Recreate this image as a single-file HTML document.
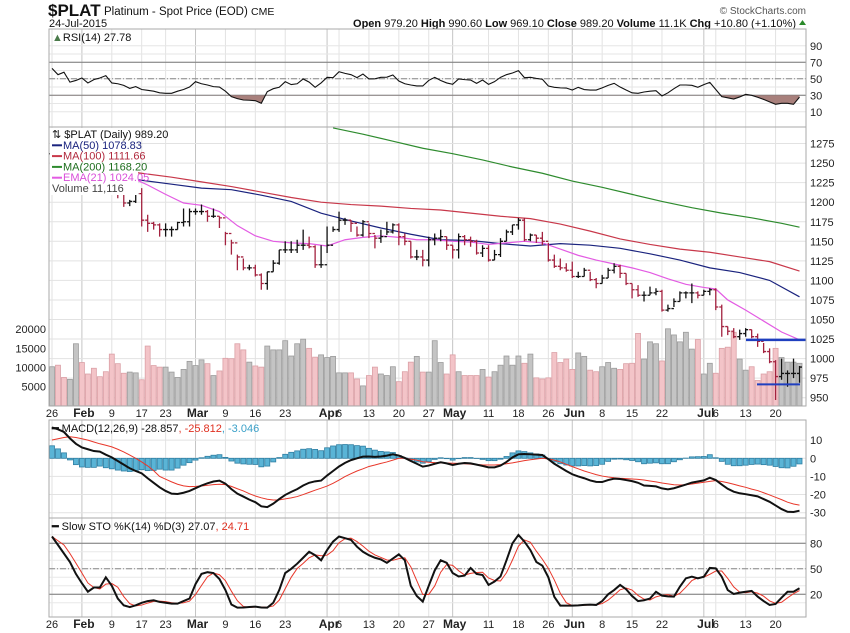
<!DOCTYPE html>
<html><head><meta charset="utf-8"><style>
body{margin:0;background:#fff}
svg{display:block;font-family:"Liberation Sans",Arial,sans-serif}
</style></head><body>
<svg id="chart" width="850" height="633" viewBox="0 0 850 633" xmlns="http://www.w3.org/2000/svg">
<defs>
<clipPath id="cpPrice"><rect x="49" y="127" width="757" height="279"/></clipPath>
<clipPath id="cpRsi"><rect x="49" y="29" width="757" height="98"/></clipPath>
<clipPath id="cpRsiLow"><rect x="49" y="95.3" width="757" height="40"/></clipPath>
<clipPath id="cpMacd"><rect x="49" y="420" width="757" height="98"/></clipPath>
<clipPath id="cpSto"><rect x="49" y="518" width="757" height="99"/></clipPath>
</defs>
<text x="48" y="16" font-size="17" font-weight="bold" fill="#111">$PLAT</text>
<text x="104" y="15" font-size="11.5" fill="#111">Platinum  - Spot Price (EOD) <tspan font-size="10.5">CME</tspan></text>
<text x="49" y="27" font-size="11" fill="#111">24-Jul-2015</text>
<text x="806" y="14" font-size="10" fill="#555" text-anchor="end">© StockCharts.com</text>
<text x="796" y="27" font-size="11" fill="#111" text-anchor="end"><tspan font-weight="bold">Open</tspan> 979.20 <tspan font-weight="bold">High</tspan> 990.60 <tspan font-weight="bold">Low</tspan> 969.10 <tspan font-weight="bold">Close</tspan> 989.20 <tspan font-weight="bold">Volume</tspan> 11.1K <tspan font-weight="bold">Chg</tspan> +10.80 (+1.10%)</text>
<polygon points="799,25 806,25 802.5,20" fill="#2a8a2a"/>
<g id="g"></g>
</svg>
<script>
// ---- data ----
const closes=[1262,1258,1255,1265,1270,1262,1255,1248,1240,1235,1225,1211,1199,1201,1211,1177,1173,1171,1165,1165,1165,1174,1175,1188,1188,1188,1182,1182,1180,1160,1148,1130,1116,1116,1107,1096,1111,1122,1139,1139,1139,1145,1145,1143,1120,1120,1145,1165,1177,1177,1173,1158,1175,1160,1154,1156,1162,1171,1156,1150,1130,1130,1126,1152,1154,1156,1145,1139,1156,1152,1150,1135,1141,1126,1133,1150,1162,1171,1177,1152,1158,1154,1150,1126,1118,1116,1113,1105,1105,1113,1101,1096,1103,1113,1118,1109,1096,1088,1081,1081,1084,1086,1062,1064,1073,1084,1084,1084,1081,1086,1088,1066,1041,1035,1028,1032,1037,1028,1022,1009,996,977,981,981,981,989.2];
const highs=[1266,1262,1262,1270,1274,1268,1260,1254,1246,1240,1236,1216,1211,1203,1214,1218,1184,1175,1173,1173,1169,1175,1192,1192,1192,1197,1190,1192,1182,1162,1152,1133,1128,1120,1120,1109,1111,1126,1139,1150,1150,1152,1165,1156,1145,1145,1169,1169,1188,1180,1177,1169,1177,1173,1158,1165,1175,1173,1173,1160,1150,1139,1139,1156,1160,1165,1156,1145,1160,1158,1156,1152,1145,1145,1139,1154,1165,1171,1180,1180,1160,1158,1162,1148,1133,1128,1122,1124,1111,1116,1111,1103,1107,1116,1122,1120,1109,1096,1094,1086,1092,1090,1088,1069,1077,1086,1086,1096,1086,1088,1090,1090,1069,1041,1039,1037,1039,1037,1032,1020,1013,998,1000,985,1000,990.6];
const lows=[1255,1252,1250,1258,1262,1255,1248,1240,1234,1228,1220,1205,1194,1195,1199,1169,1162,1165,1156,1156,1156,1165,1169,1169,1184,1184,1175,1180,1167,1145,1133,1113,1113,1113,1105,1088,1088,1111,1120,1135,1135,1135,1139,1141,1116,1116,1135,1162,1162,1171,1162,1156,1156,1154,1141,1148,1158,1160,1145,1145,1128,1126,1118,1118,1145,1150,1139,1128,1128,1145,1143,1133,1130,1124,1126,1130,1150,1158,1165,1150,1150,1148,1145,1124,1116,1113,1111,1103,1103,1105,1099,1090,1096,1103,1109,1103,1094,1077,1079,1073,1081,1081,1060,1060,1066,1073,1077,1071,1077,1081,1081,1062,1028,1030,1026,1024,1028,1026,1015,1007,994,947,973,964,975,969.1];
const volumes=[10.2,10.6,7.4,6.9,16.2,11.3,8.3,9.8,7.6,8.9,13.5,11.0,8.5,8.8,8.6,6.8,15.6,10.5,10.1,10.1,8.8,7.4,9.5,11.6,10.5,12.0,11.0,7.9,9.1,12.4,12.3,16.2,14.6,11.4,10.4,10.1,15.6,14.6,14.6,17.0,13.0,16.2,17.4,15.0,12.7,13.3,12.6,12.9,8.6,8.6,8.6,7.0,5.2,7.9,10.1,8.3,7.9,10.2,6.3,8.9,11.4,12.9,8.8,8.8,17.0,11.3,8.3,13.3,8.9,7.9,7.9,7.9,9.5,7.5,8.9,10.6,13.0,10.6,13.0,11.1,13.5,7.3,7.0,7.3,13.9,11.3,12.2,9.5,13.8,12.9,9.3,8.9,10.2,11.3,9.8,9.5,11.0,11.1,18.9,12.2,16.7,16.2,11.7,20.1,18.5,16.7,19.2,14.8,17.3,8.3,11.1,8.5,15.0,15.3,19.2,12.2,9.3,10.2,6.6,8.3,8.9,15.0,12.6,11.4,11.4,11.1];
const ma50Idx=[14,20,25,30,35,40,45,50,55,60,65,70,75,80,85,90,95,100,105,110,115,120,125];
const ma50=[1229,1223,1218,1216,1209,1201,1186,1176,1167,1159,1152,1151,1147,1144,1147,1145,1141,1134,1126,1116,1110,1100,1079];
const ma100Idx=[14,20,25,30,35,40,45,50,55,60,65,70,75,80,85,90,95,100,105,110,115,120,125];
const ma100=[1238,1232,1226,1220,1213,1206,1200,1197,1195,1192,1190,1186,1182,1179,1172,1163,1153,1146,1140,1136,1130,1124,1112];
const ma200Idx=[47,52,57,62,67,72,77,82,87,92,97,102,107,112,117,122,125];
const ma200=[1295,1287,1278,1269,1262,1254,1245,1237,1227,1219,1210,1201,1193,1186,1180,1173,1168];
const ema21Idx=[14,16,19,22,25,28,31,34,37,40,43,46,49,52,55,58,61,64,67,70,73,76,79,82,85,88,91,94,97,100,103,106,109,111,113,116,119,122,125];
const ema21=[1229,1222,1210,1199,1196,1188,1170,1157,1150,1148,1147,1144,1152,1155,1157,1155,1152,1152,1150,1149,1146,1148,1150,1148,1140,1132,1126,1121,1116,1110,1102,1095,1091,1089,1075,1062,1048,1034,1024];
const rsi=[62.7,55,58,46,48,51,45,49,51,53.8,45,44,42,38.4,40.5,37,36,35,33,32.4,32.4,35,37,40,46.5,44,42.5,40.5,40,35,28.4,26,24.3,24,23.5,20.3,34.4,38,39.7,46.5,43,44,49.8,46,39.7,45,51.8,51.4,58.6,56.6,55,51.4,55.8,49.8,50,51.8,52,54.6,47.3,44,42.5,41.3,41.3,48,51.8,48,45,43.3,49.8,49,48.5,44.5,48.5,43.3,46.5,51.8,55,57,59.9,51.4,51.8,50.5,49.4,41.3,39.7,39,38.8,36.4,39.7,37,36.4,36.4,39,42,44.5,40,36.4,33,32.4,34,35,35.6,29.2,33,38,42.5,42.5,42.1,39.7,43,45.7,37,28.4,27,25.5,28,31.2,30,27.6,25,22,19.1,20.3,20.3,19.1,27.8];
const macd=[17,16,14.5,11,8,6,5,4,3.7,2,0.5,-1.5,-3.5,-5.5,-7,-8.3,-11,-13.5,-16,-18,-19.5,-19.7,-19,-18,-16.5,-15,-13.8,-12.8,-12.3,-14,-17,-19.5,-21.1,-22.8,-24.2,-26.5,-26.9,-25,-22.5,-20.2,-18.5,-17,-15,-13.5,-12.7,-12.3,-9.5,-7,-4.5,-2.5,-1,0,0.9,1,0.8,1,1.5,2.2,1.5,0.2,-1.5,-3,-4.6,-4,-3,-2.2,-2.8,-3.7,-3,-2.6,-2.8,-3.5,-4.2,-5,-5,-4,-2,0.5,2.2,2.4,2.2,2,1.8,-0.5,-3,-5,-7,-8.8,-10,-11,-12.2,-13,-13.1,-12,-11.2,-11.4,-12,-12.6,-13.5,-15,-15.2,-15.5,-16.6,-17.1,-16.5,-15.5,-14.5,-13.4,-12.8,-12.2,-10.7,-12,-14.5,-16.8,-18.4,-19.3,-19.8,-20.4,-21,-22.5,-24,-26,-28,-29.5,-29.6,-28.9];
const signal=[10.1,10.8,11.5,11.9,11.5,10.8,10,9,8,7.2,6.3,5,3.5,1.8,0,-2,-4.2,-6.8,-10,-11.5,-13,-14.3,-15.2,-15.6,-15.5,-15.3,-14.9,-14.5,-14.3,-14.5,-15.5,-16.8,-18,-19.5,-20.8,-21.8,-22.6,-23,-22.9,-22.4,-21.8,-21.1,-20,-18.8,-17.6,-16.5,-15.3,-13.8,-12,-10.1,-8.5,-7,-5.8,-4.5,-3.7,-2.8,-2,-1,0,0,-0.5,-1,-1.9,-2.2,-2.4,-2.5,-2.6,-2.7,-2.8,-3,-3.2,-3.4,-3.6,-3.7,-3.7,-3.5,-3,-2.5,-1.9,-1.3,-0.8,-0.4,0,-0.3,-1,-2,-3.3,-4.6,-5.8,-7,-8,-9,-9.8,-10.3,-10.7,-11,-11.2,-11.4,-11.6,-12,-12.5,-13,-13.6,-14.1,-14.6,-14.7,-14.6,-14.2,-13.7,-13.2,-12.7,-12.3,-12.8,-13.5,-14.3,-15.2,-16,-17,-17.8,-19,-20.2,-21.5,-22.8,-24.2,-25.2,-25.8];
const stoK=[88,78,68,58,44,33,23,28,28,40,30,15,7,5,7,10,12,13,11,10,9,9,12,15,32,44,46,45,38,25,8,4.3,4.5,5,5.5,4.5,4.3,10,25,45,50,56,63,70,66,60,72,82,88,86,84,76,70,66,63,61,57,62,67,60,30,18,11.4,30,48,60,57,45,41,42,51,44,42.7,31,35,41,60,80,89.8,82,72,58,53.7,40,17,6.7,6.7,6.7,7,7.5,7.8,7.5,12,20,25,31,26,18,12,13,15,23,18.4,17.5,17.3,29,38.8,40.7,38.8,40.7,51,50.5,40.7,25,20.4,22,23,24,17.3,12,7.4,8.6,16,23,23,27.1];
const dateIdx=[0,5,10,15,19,24,29,34,39,46,48,53,58,63,67,73,78,83,87,92,97,102,109,111,116,121];
const dateTxt=["26","Feb","9","17","23","Mar","9","16","23","Apr","6","13","20","27","May","11","18","26","Jun","8","15","22","Jul","6","13","20"];
const priceTicks=[950,975,1000,1025,1050,1075,1100,1125,1150,1175,1200,1225,1250,1275];
const volTicks=[5000,10000,15000,20000];
const rsiTicks=[10,30,50,70,90];
const macdTicks=[10,0,-10,-20,-30];
const stoTicks=[20,50,80];
// ---- scales ----
const X0=49,X1=806;
const xI=i=>52+i*5.98;
const yP=v=>397.7-(v-950)*0.782;
const yV=k=>405.8-k*3.83;
const yR=v=>95.3-(v-30)*0.825;
const yM=v=>458.3-v*1.813;
const yS=v=>594.3-(v-20)*0.85;
const NS="http://www.w3.org/2000/svg";
const G=document.getElementById('g');
function mk(tag,a,parent){const e=document.createElementNS(NS,tag);for(const k in a)e.setAttribute(k,a[k]);(parent||G).appendChild(e);return e;}
function grp(clip){const e=document.createElementNS(NS,'g');if(clip)e.setAttribute('clip-path','url(#'+clip+')');G.appendChild(e);return e;}
function isMonth(t){return isNaN(+t);}
const panels=[[29,127,'rsi-panel'],[127,406,'price-panel'],[420,518,'macd-panel'],[518,617,'stochastic-panel']];
for(const p of panels){
  const r=mk('rect',{x:X0,y:p[0],width:X1-X0,height:p[1]-p[0],fill:'#fff',stroke:'none'});
  
  
}
for(const p of panels){
  dateIdx.forEach((di,k)=>{
    const vx=xI(di);
    const l=mk('line',{x1:vx,x2:vx,y1:p[0],y2:p[1],stroke:isMonth(dateTxt[k])?'#c4c4c4':'#e2e2e2','stroke-width':1});
    
    
  });
}
for(let v=10;v<=90;v+=10){
  const l=mk('line',{x1:X0,x2:X1,y1:yR(v),y2:yR(v),stroke:'#e6e6e6'});
  
  
}
rsiTicks.forEach(v=>{
  const t=mk('text',{x:810,y:yR(v)+4,'font-size':11,fill:'#222'});t.textContent=v;
  
  
});
[[30,'#777',''],[70,'#777',''],[50,'#888','6,2,1,2']].forEach(a=>{
  const l=mk('line',{x1:X0,x2:X1,y1:yR(a[0]),y2:yR(a[0]),stroke:a[1],'stroke-dasharray':a[2]});
  
  
});
{
  const gl=grp('cpRsiLow');
  let pts=rsi.map((v,i)=>xI(i)+','+yR(v)).join(' ');
  const f=mk('polygon',{points:xI(0)+','+yR(30)+' '+pts+' '+xI(rsi.length-1)+','+yR(30),fill:'#a8807c',stroke:'none'},gl);
  
  
  const gr=grp('cpRsi');
  const l=mk('polyline',{points:pts,fill:'none',stroke:'#111','stroke-width':1.1},gr);
  
  
}
priceTicks.forEach(v=>{
  const l=mk('line',{x1:X0,x2:X1,y1:yP(v),y2:yP(v),stroke:'#e2e2e2'});
  
  
  const t=mk('text',{x:810,y:yP(v)+4,'font-size':11,fill:'#222'});t.textContent=v;
  
  
});
volTicks.forEach(v=>{
  const t=mk('text',{x:46,y:yV(v/1000)+4,'font-size':11,fill:'#222','text-anchor':'end'});t.textContent=v;
  
  
});
{
  const gv=grp('cpPrice');
  volumes.forEach((v,i)=>{
    const down=i>0&&closes[i]<closes[i-1];
    const b=mk('rect',{x:xI(i)-2.5,y:yV(v),width:5,height:yV(0)-yV(v),fill:down?'#f3c4c8':'#c4c4c4',stroke:down?'#dba0a6':'#9c9c9c','stroke-width':0.8},gv);
    
    
  });
}
{
  const gm=grp('cpPrice');
  [[ma200Idx,ma200,'#2e8b2e','ma200-line'],[ma100Idx,ma100,'#c8384a','ma100-line'],[ma50Idx,ma50,'#1a237e','ma50-line'],[ema21Idx,ema21,'#e35be3','ema21-line']].forEach(s=>{
    const l=mk('polyline',{points:s[0].map((ix,k)=>xI(ix)+','+yP(s[1][k])).join(' '),fill:'none',stroke:s[2],'stroke-width':1.2},gm);
    
    
  });
}
{
  const gp=grp('cpPrice');
  closes.forEach((c,i)=>{
    const o=i>0?closes[i-1]:c;
    const col=(i>0&&c<closes[i-1])?'#a3223f':'#111';
    const xx=xI(i);
    const b=mk('path',{d:`M${xx},${yP(highs[i])}V${yP(lows[i])}M${xx-2.5},${yP(o)}H${xx}M${xx},${yP(c)}H${xx+2.5}`,stroke:col,'stroke-width':1.3,fill:'none'},gp);
    
    
  });
}
{
  const a1=mk('line',{x1:746,x2:806,y1:yP(1024),y2:yP(1024),stroke:'#1f3fbf','stroke-width':2.5});
  
  
  const a2=mk('line',{x1:757,x2:800,y1:yP(967),y2:yP(967),stroke:'#1f3fbf','stroke-width':2});
  
  
}
{
  const bg=mk('rect',{x:50,y:128,width:88,height:67,fill:'#fff'});
  
  
  const items=[['⇅ $PLAT (Daily) 989.20','#111',null],['MA(50) 1078.83','#1a237e','#1a237e'],['MA(100) 1111.66','#b0283c','#c8384a'],['MA(200) 1168.20','#1e6e1e','#2e8b2e'],['EMA(21) 1024.05','#d94fd9','#e35be3'],['Volume 11,116','#444',null]];
  items.forEach((it,k)=>{
    const yy=138+k*10.8;
    if(it[2]){const m=mk('line',{x1:52,x2:62,y1:yy-3.5,y2:yy-3.5,stroke:it[2],'stroke-width':2});
      
      }
    const t=mk('text',{x:it[2]?63:52,y:yy,'font-size':11,fill:it[1]});t.textContent=it[0];
    
    
  });
}
macdTicks.forEach(v=>{
  const l=mk('line',{x1:X0,x2:X1,y1:yM(v),y2:yM(v),stroke:'#e2e2e2'});
  
  
  const t=mk('text',{x:810,y:yM(v)+4,'font-size':11,fill:'#222'});t.textContent=v;
  
  
});
{
  const gh=grp('cpMacd');
  macd.forEach((m,i)=>{
    const h=m-signal[i];
    const b=mk('rect',{x:xI(i)-2.5,y:Math.min(yM(h),yM(0)),width:5,height:Math.abs(yM(h)-yM(0)),fill:'#5ab4d6',stroke:'#2f7fa3','stroke-width':0.8},gh);
    
    
  });
  const s=mk('polyline',{points:signal.map((v,i)=>xI(i)+','+yM(v)).join(' '),fill:'none',stroke:'#e8372a','stroke-width':1},gh);
  
  
  const l=mk('polyline',{points:macd.map((v,i)=>xI(i)+','+yM(v)).join(' '),fill:'none',stroke:'#111','stroke-width':2},gh);
  
  
  const t=mk('text',{x:52,y:432,'font-size':11,fill:'#111'});
  t.innerHTML='<tspan font-weight="bold">━</tspan> MACD(12,26,9) -28.857<tspan fill="#e03020">, -25.812</tspan><tspan fill="#3aa0c8">, -3.046</tspan>';
  
  
}
for(let v=10;v<=90;v+=10){
  const l=mk('line',{x1:X0,x2:X1,y1:yS(v),y2:yS(v),stroke:'#e8e8e8'});
  
  
}
stoTicks.forEach(v=>{
  const t=mk('text',{x:810,y:yS(v)+4,'font-size':11,fill:'#222'});t.textContent=v;
  
  
});
[[20,'#777',''],[80,'#777',''],[50,'#888','6,2,1,2']].forEach(a=>{
  const l=mk('line',{x1:X0,x2:X1,y1:yS(a[0]),y2:yS(a[0]),stroke:a[1],'stroke-dasharray':a[2]});
  
  
});
{
  const gs=grp('cpSto');
  const stoD=stoK.map((v,i)=>{const a=stoK.slice(Math.max(0,i-2),i+1);return a.reduce((s,x)=>s+x,0)/a.length;});
  const d=mk('polyline',{points:stoD.map((v,i)=>xI(i)+','+yS(v)).join(' '),fill:'none',stroke:'#e8372a','stroke-width':1},gs);
  
  
  const k=mk('polyline',{points:stoK.map((v,i)=>xI(i)+','+yS(v)).join(' '),fill:'none',stroke:'#111','stroke-width':2},gs);
  
  
  const t=mk('text',{x:52,y:530,'font-size':11,fill:'#111'});
  t.innerHTML='<tspan font-weight="bold">━</tspan> Slow STO %K(14) %D(3) 27.07<tspan fill="#e03020">, 24.71</tspan>';
  
  
}
{
  const t=mk('text',{x:52,y:41,'font-size':11,fill:'#111'});
  t.innerHTML='<tspan fill="#4a7a4a">▲</tspan>RSI(14) 27.78';
  
  
}
for(const p of panels){
  const r=mk('rect',{x:X0,y:p[0],width:X1-X0,height:p[1]-p[0],fill:'none',stroke:'#aaa'});
  
  
}
[417,628].forEach((yy,ai)=>{
  dateIdx.forEach((di,k)=>{
    const m=isMonth(dateTxt[k]);
    const t=mk('text',{x:xI(di)+(m?2:0),y:yy,'font-size':m?12:11,'font-weight':m?'bold':'normal',fill:'#222','text-anchor':'middle'});
    t.textContent=dateTxt[k];
    
    
  });
});
</script>
</body></html>
